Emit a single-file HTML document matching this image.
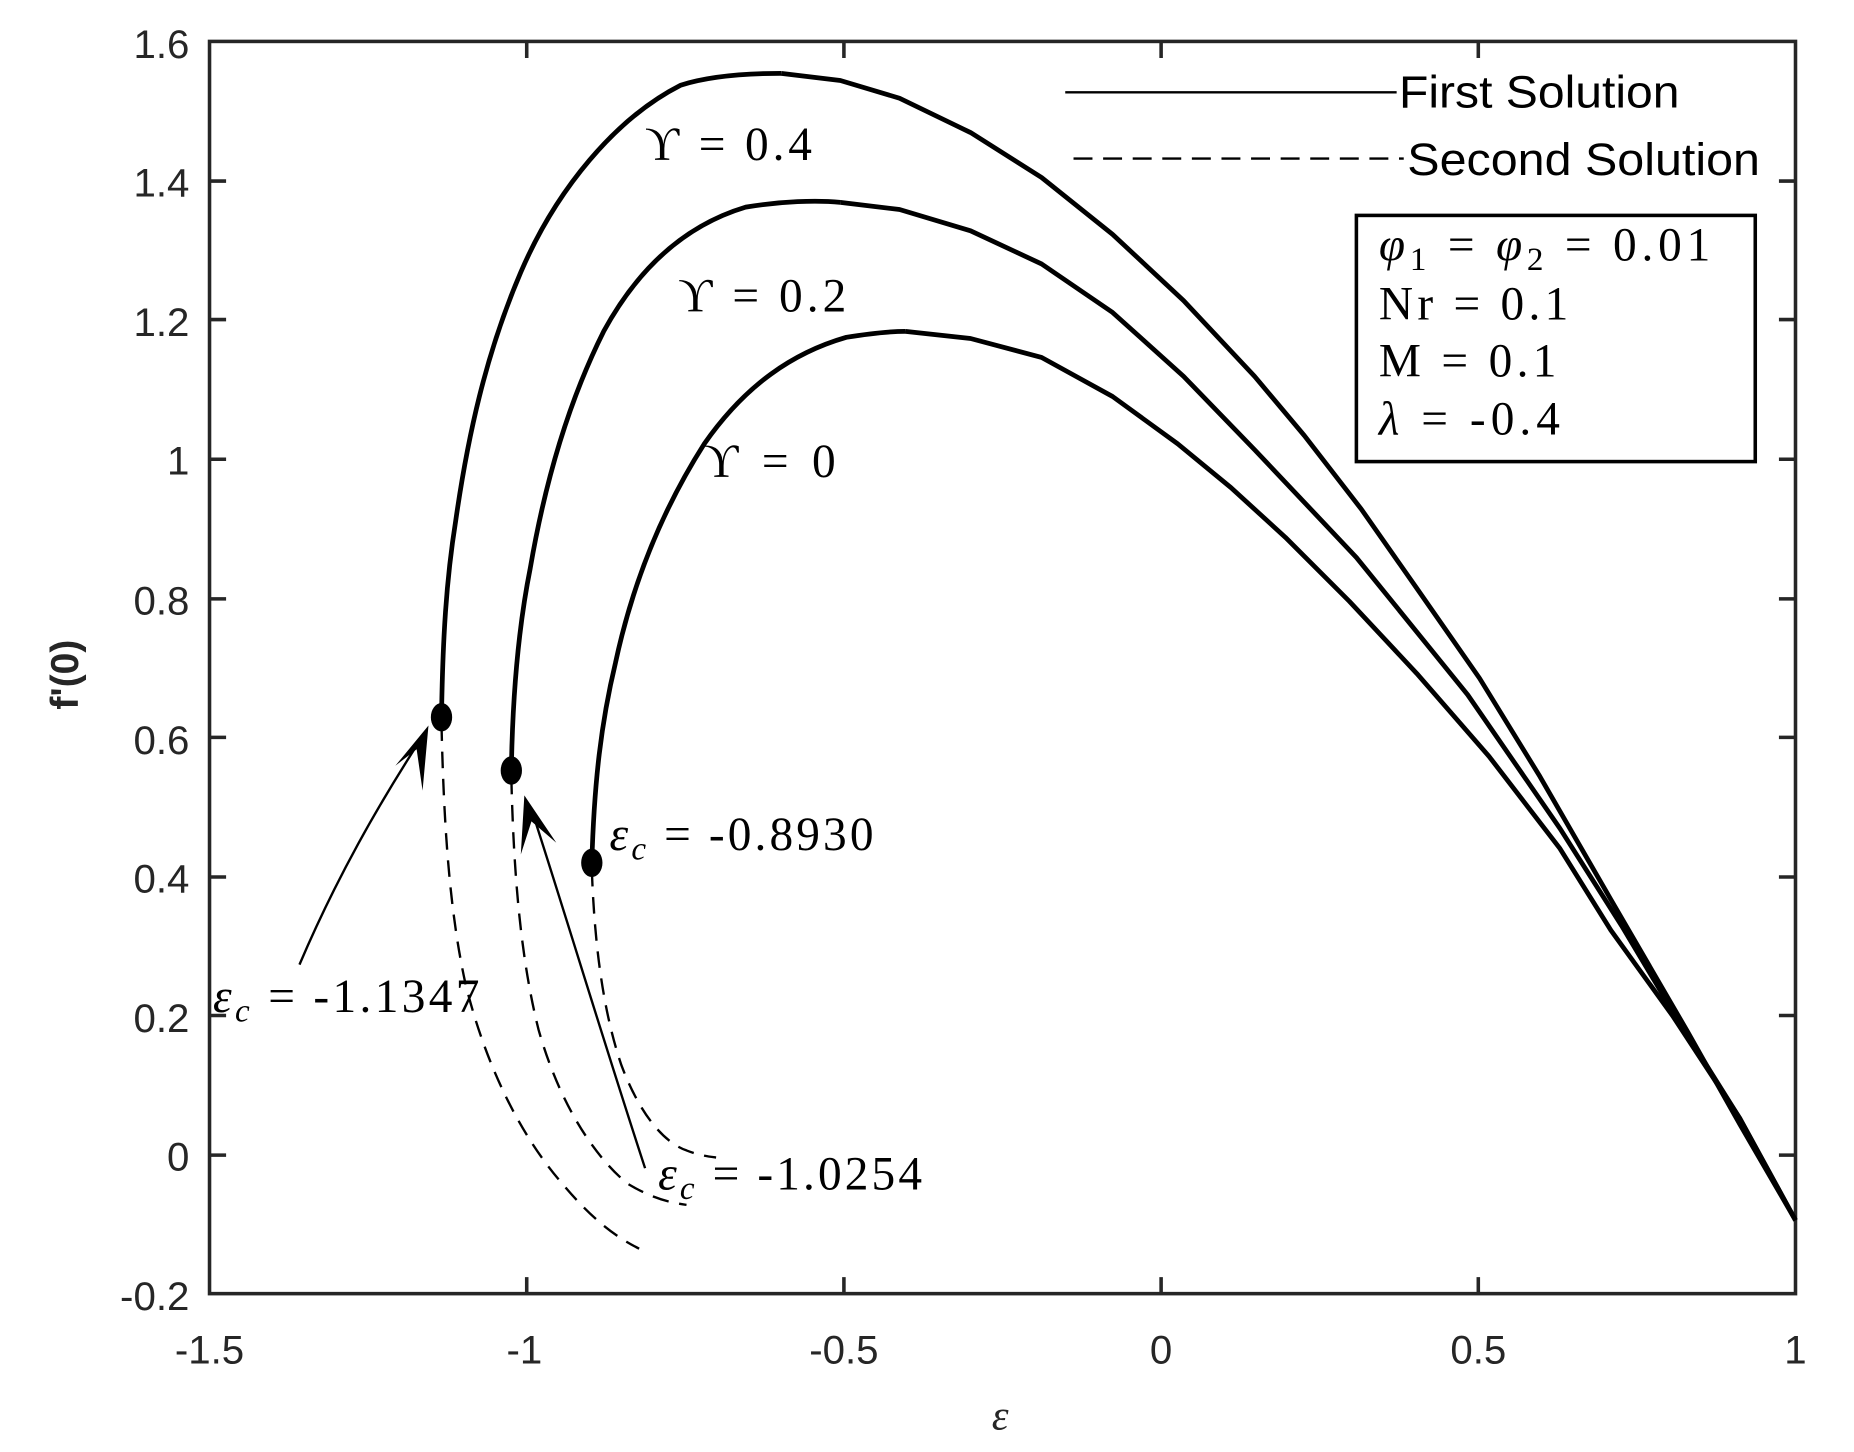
<!DOCTYPE html>
<html><head><meta charset="utf-8"><style>html,body{margin:0;padding:0;background:#fff}svg{display:block}</style></head>
<body>
<svg width="1854" height="1452" viewBox="0 0 1566.4 1226.8" xmlns="http://www.w3.org/2000/svg">
<rect width="1566.4" height="1226.8" fill="#fff"/>
<g stroke="#262626" stroke-width="3" fill="none">
<rect x="177" y="35" width="1340" height="1058"/>
<path d="M445,35v14M713,35v14M981,35v14M1249,35v14M445,1093v-14M713,1093v-14M981,1093v-14M1249,1093v-14
M177,153h14M177,270h14M177,388h14M177,506h14M177,623h14M177,741h14M177,858h14M177,976h14
M1517,153h-14M1517,270h-14M1517,388h-14M1517,506h-14M1517,623h-14M1517,741h-14M1517,858h-14M1517,976h-14"/>
</g>
<g font-family="Liberation Sans, sans-serif" font-size="34" fill="#262626" text-anchor="end">
<text x="160" y="49">1.6</text><text x="160" y="166">1.4</text><text x="160" y="284">1.2</text><text x="160" y="401">1</text>
<text x="160" y="519">0.8</text><text x="160" y="637">0.6</text><text x="160" y="754">0.4</text><text x="160" y="872">0.2</text>
<text x="160" y="989">0</text><text x="160" y="1107">-0.2</text>
</g>
<g font-family="Liberation Sans, sans-serif" font-size="34" fill="#262626" text-anchor="middle">
<text x="177" y="1152">-1.5</text><text x="443" y="1152">-1</text><text x="713" y="1152">-0.5</text><text x="981" y="1152">0</text>
<text x="1249" y="1152">0.5</text><text x="1517" y="1152">1</text>
</g>
<text x="845" y="1208" font-family="Liberation Serif, serif" font-style="italic" font-size="36" fill="#262626" text-anchor="middle">ε</text>
<text transform="translate(66,570) rotate(-90)" font-family="Liberation Sans, sans-serif" font-weight="bold" font-size="33" fill="#262626" text-anchor="middle">f'(0)</text>

<g stroke="#000" stroke-width="4" fill="none" stroke-linejoin="round">
<path d="M373,606 C374,540 377,490 385,440 C395,370 410,300 440,230 C470,160 520,100 575,72 C600,64 630,62 660,62"/>
<polyline points="660,62 710,68 760,83 820,112 880,150 940,198 1000,254 1060,318 1102,368 1150,430 1197,497 1250,573 1301,656 1361,760 1426,872 1470,950 1517,1031"/>
<path d="M432,651 C433,590 438,530 448,480 C460,410 480,340 510,280 C540,225 580,190 630,175 C660,170 690,169 710,171"/>
<polyline points="710,171 760,177 820,195 880,223 940,264 1000,318 1060,380 1146,471 1240,587 1318,700 1370,782 1413,854 1470,945 1517,1031"/>
<path d="M500,729 C502,660 508,610 520,560 C535,490 560,430 595,375 C630,325 670,298 715,285 C740,281 755,280 765,280"/>
<polyline points="765,280 820,286 880,302 940,335 995,375 1040,412 1086,454 1140,508 1197,569 1258,639 1318,717 1361,786 1413,858 1470,945 1517,1031"/>
</g>
<g stroke="#000" stroke-width="2" fill="none" stroke-dasharray="14,9">
<path d="M373,612 C375,700 380,770 393,830 C410,900 440,960 475,1000 C500,1030 520,1045 540,1055"/>
<path d="M432,657 C434,740 440,810 455,870 C472,930 500,975 530,1000 C550,1012 565,1016 580,1018"/>
<path d="M500,735 C502,790 508,850 525,900 C540,940 560,965 580,972 C590,976 598,977 605,978"/>
</g>
<g fill="#000">
<ellipse cx="373" cy="606" rx="9" ry="12"/>
<ellipse cx="432" cy="651" rx="9" ry="12"/>
<ellipse cx="500" cy="729" rx="9" ry="12"/>
</g>
<g stroke="#000" stroke-width="2" fill="none">
<path d="M253,815 C285,740 320,680 352,630"/>
<path d="M545,987 C510,880 480,780 451,690"/>
</g>
<g fill="#000">
<path d="M362,613 L334,647 L352,633 L357,668 Z"/>
<path d="M443,672 L440,722 L449,694 L470,712 Z"/>
</g>
<g font-family="Liberation Serif, serif" font-size="40" fill="#000" lengthAdjust="spacing">
<text x="545" y="135" textLength="141">ϒ = 0.4</text>
<text x="573" y="263" textLength="142">ϒ = 0.2</text>
<text x="595" y="403" textLength="111">ϒ = 0</text>
<text x="515" y="718" textLength="223"><tspan font-style="italic">ε</tspan><tspan font-style="italic" font-size="28" dy="8">c</tspan><tspan dy="-8"> = -0.8930</tspan></text>
<text x="180" y="855" textLength="225"><tspan font-style="italic">ε</tspan><tspan font-style="italic" font-size="28" dy="8">c</tspan><tspan dy="-8"> = -1.1347</tspan></text>
<text x="556" y="1005" textLength="223"><tspan font-style="italic">ε</tspan><tspan font-style="italic" font-size="28" dy="8">c</tspan><tspan dy="-8"> = -1.0254</tspan></text>
</g>
<g stroke="#000" stroke-width="2">
<path d="M900,78H1180"/>
<path d="M907,134H1186" stroke-dasharray="16,9"/>
</g>
<g font-family="Liberation Sans, sans-serif" font-size="38" fill="#000">
<text x="1182" y="91" textLength="237" lengthAdjust="spacingAndGlyphs">First Solution</text>
<text x="1189" y="148" textLength="298" lengthAdjust="spacingAndGlyphs">Second Solution</text>
</g>
<rect x="1146" y="182" width="337" height="208" fill="none" stroke="#000" stroke-width="3"/>
<g font-family="Liberation Serif, serif" font-size="40" fill="#000">
<text x="1165" y="220" textLength="280" lengthAdjust="spacing"><tspan font-style="italic">φ</tspan><tspan font-size="28" dy="8">1</tspan><tspan dy="-8"> = </tspan><tspan font-style="italic">φ</tspan><tspan font-size="28" dy="8">2</tspan><tspan dy="-8"> = 0.01</tspan></text>
<text x="1165" y="270" textLength="160" lengthAdjust="spacing">Nr = 0.1</text>
<text x="1165" y="318" textLength="150" lengthAdjust="spacing">M = 0.1</text>
<text x="1165" y="367" textLength="153" lengthAdjust="spacing"><tspan font-style="italic">λ</tspan> = -0.4</text>
</g>
</svg>
</body></html>
